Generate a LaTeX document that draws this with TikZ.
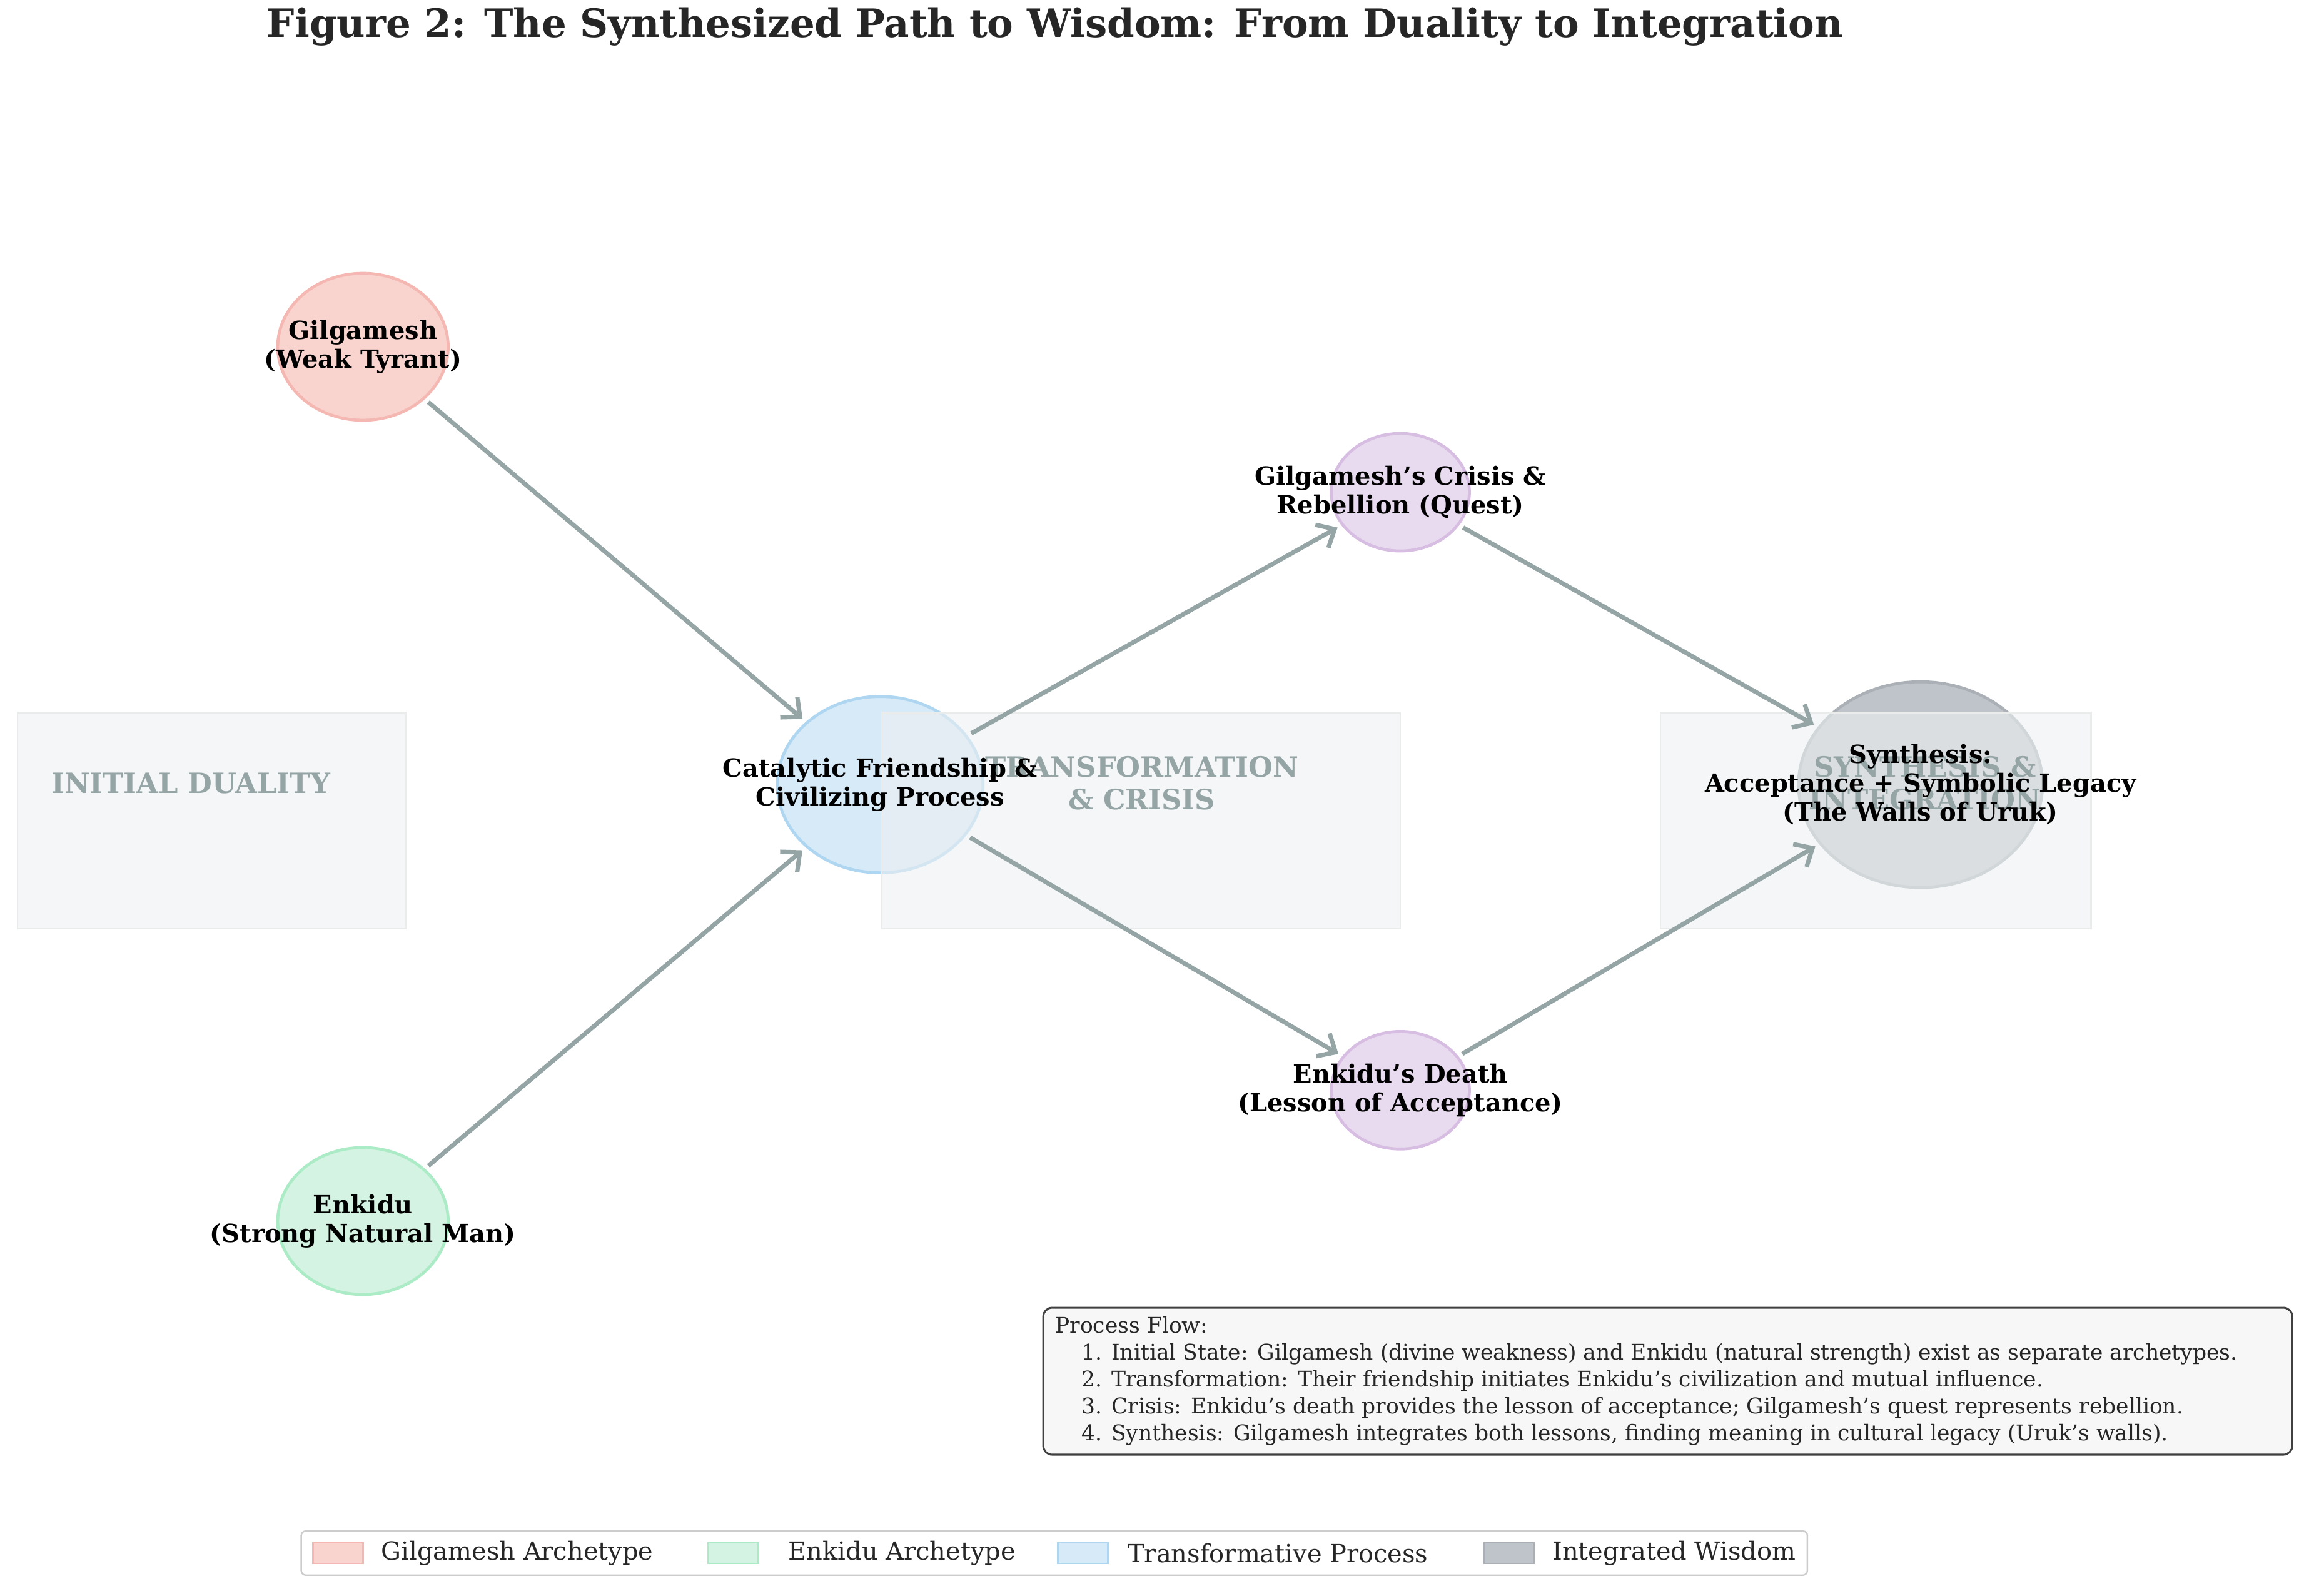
\documentclass[tikz,border=0pt]{standalone}
\usepackage{fontspec}
\setmainfont{DejaVu Serif}
\usetikzlibrary{shapes.geometric,arrows.meta}
\definecolor{flowgray}{HTML}{95A5A6}
\definecolor{boxgray}{HTML}{ECF0F1}
\definecolor{gilfill}{HTML}{F9D3CD}
\definecolor{gilline}{HTML}{F5B7B1}
\definecolor{enkfill}{HTML}{D4F3E2}
\definecolor{enkline}{HTML}{ABEBC6}
\definecolor{catfill}{HTML}{D6EAF8}
\definecolor{catline}{HTML}{AED6F1}
\definecolor{crifill}{HTML}{E8DAEF}
\definecolor{criline}{HTML}{D7BDE2}
\definecolor{synfill}{HTML}{BFC3CA}
\definecolor{synline}{HTML}{AAB0B6}
\tikzset{
  stage/.style={ellipse, line width=2pt, inner sep=0pt},
  stagetext/.style={font=\bfseries\fontsize{17}{19.5}\selectfont, align=center},
  phase/.style={fill=boxgray, draw=boxgray!70!gray!40, fill opacity=0.6, line width=1pt},
  phaselabel/.style={text=flowgray, font=\bfseries\fontsize{19}{22}\selectfont, align=center},
  flow/.style={draw=flowgray, line width=3pt, -{Straight Barb[length=10pt,width=18pt,line width=3pt]}, shorten <=3pt, shorten >=3pt},
  patch/.style={minimum width=34pt, minimum height=14pt, inner sep=0pt, line width=1pt},
  legtext/.style={anchor=west, font=\fontsize{17}{20}\selectfont, text=black!85}
}
\begin{document}
\begin{tikzpicture}[x=1pt,y=-1pt]
\useasboundingbox (0,0) rectangle (1568,1086);
% title
\node[font=\bfseries\fontsize{26.6}{30}\selectfont, text=black!85] (title) at (718,18) {Figure 2: The Synthesized Path to Wisdom: From Duality to Integration};
% stages
\node[stage, fill=gilfill, draw=gilline, minimum width=116pt, minimum height=100pt] (gilg) at (247,236) {};
\node[stage, fill=enkfill, draw=enkline, minimum width=116pt, minimum height=100pt] (enki) at (247,831) {};
\node[stage, fill=catfill, draw=catline, minimum width=140pt, minimum height=120pt] (cata) at (599,534) {};
\node[stage, fill=crifill, draw=criline, minimum width=94pt, minimum height=80pt] (cris) at (953,335) {};
\node[stage, fill=crifill, draw=criline, minimum width=94pt, minimum height=80pt] (death) at (953,742) {};
\node[stage, fill=synfill, draw=synline, minimum width=166pt, minimum height=140pt] (synt) at (1307,534) {};
% phase boxes
\fill[phase] (12,485) rectangle (276,632);
\fill[phase] (600,485) rectangle (953,632);
\fill[phase] (1130,485) rectangle (1423,632);
\node[phaselabel] (ini) at (130,533) {INITIAL DUALITY};
\node[phaselabel] (tra) at (777,533) {TRANSFORMATION\\\& CRISIS};
\node[phaselabel] (syn) at (1310,533) {SYNTHESIS \&\\INTEGRATION};
% stage texts
\node[stagetext] at (gilg) {Gilgamesh\\(Weak Tyrant)};
\node[stagetext] at (enki) {Enkidu\\(Strong Natural Man)};
\node[stagetext] at (cata) {Catalytic Friendship \&\\Civilizing Process};
\node[stagetext] at (cris) {Gilgamesh's Crisis \&\\Rebellion (Quest)};
\node[stagetext] at (death) {Enkidu's Death\\(Lesson of Acceptance)};
\node[stagetext] at (synt) {Synthesis:\\Acceptance + Symbolic Legacy\\(The Walls of Uruk)};
% arrows
\draw[flow] (gilg) -- (cata);
\draw[flow] (enki) -- (cata);
\draw[flow] (cata) -- (cris);
\draw[flow] (cata) -- (death);
\draw[flow] (cris) -- (synt);
\draw[flow] (death) -- (synt);
% process notes
\draw[rounded corners=6pt, fill=black!3, draw=black!75, line width=1.3pt] (710,890) rectangle (1560,990);
\node[anchor=north west, align=left, inner sep=0pt, text=black!85, font=\fontsize{14.7}{18.3}\selectfont] (notes) at (718,896) {Process Flow:\\
\hspace*{18pt}1. Initial State: Gilgamesh (divine weakness) and Enkidu (natural strength) exist as separate archetypes.\\
\hspace*{18pt}2. Transformation: Their friendship initiates Enkidu's civilization and mutual influence.\\
\hspace*{18pt}3. Crisis: Enkidu's death provides the lesson of acceptance; Gilgamesh's quest represents rebellion.\\
\hspace*{18pt}4. Synthesis: Gilgamesh integrates both lessons, finding meaning in cultural legacy (Uruk's walls).};
% legend
\draw[rounded corners=3pt, draw=black!20, fill=white, line width=1pt] (205,1042) rectangle (1230,1072);
\node[patch, fill=gilfill, draw=gilline] (lg1) at (230,1057) {};
\node[legtext] at (256,1057) {Gilgamesh Archetype};
\node[patch, fill=enkfill, draw=enkline] (lg2) at (499,1057) {};
\node[legtext] at (533,1057) {Enkidu Archetype};
\node[patch, fill=catfill, draw=catline] (lg3) at (737,1057) {};
\node[legtext] at (764,1057) {Transformative Process};
\node[patch, fill=synfill, draw=synline] (lg4) at (1027,1057) {};
\node[legtext] at (1053,1057) {Integrated Wisdom};
\end{tikzpicture}
\end{document}
